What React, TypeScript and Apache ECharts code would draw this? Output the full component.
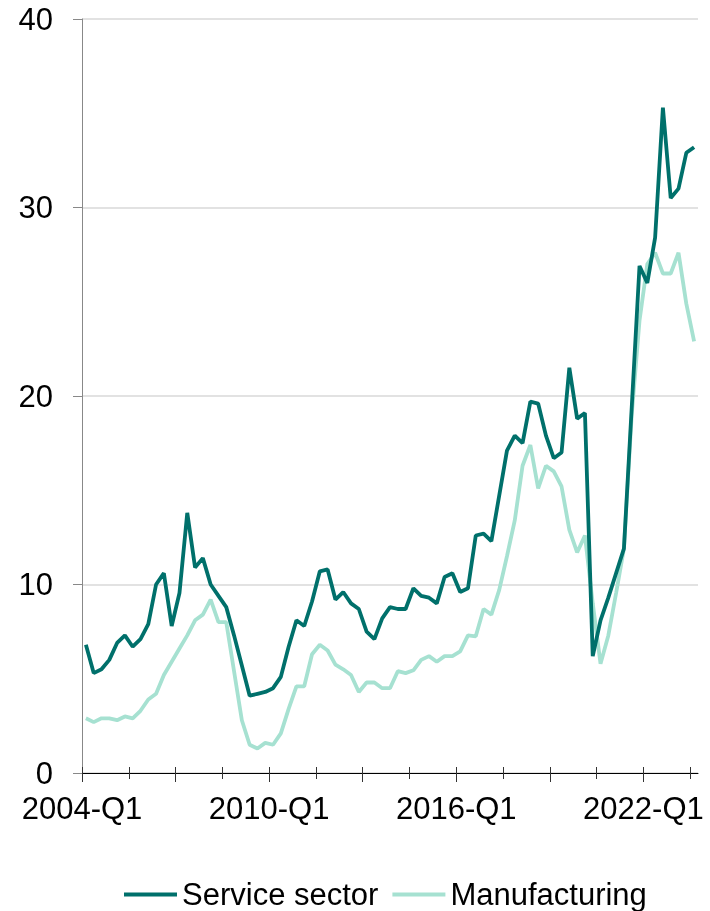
import React, { useEffect, useRef } from "react";
import * as echarts from "echarts";

const years = [2004, 2005, 2006, 2007, 2008, 2009, 2010, 2011, 2012, 2013, 2014, 2015, 2016, 2017, 2018, 2019, 2020, 2021, 2022, 2023];
const quarters = ["Q1", "Q2", "Q3", "Q4"];
const categories: string[] = [];
years.forEach((y) => quarters.forEach((q) => categories.push(`${y}-${q}`)));
categories.length = 79; // 2004-Q1 .. 2023-Q3

const serviceSector = [
  6.8, 5.3, 5.5, 6.0, 6.9, 7.3, 6.7, 7.1, 7.9, 10.0,
  10.6, 7.8, 9.55, 13.8, 10.9, 11.4, 10.0, 9.4, 8.8, 7.3,
  5.7, 4.1, 4.2, 4.3, 4.5, 5.1, 6.7, 8.1, 7.8, 9.1,
  10.7, 10.8, 9.2, 9.6, 9.0, 8.7, 7.5, 7.1, 8.2, 8.8,
  8.7, 8.7, 9.8, 9.4, 9.3, 9.0, 10.4, 10.6, 9.6, 9.8,
  12.6, 12.7, 12.3, 14.7, 17.1, 17.9, 17.5, 19.7, 19.6, 17.9,
  16.7, 17.0, 21.5, 18.8, 19.1, 6.2, 8.1, 9.3, 10.6, 11.9,
  19.4, 26.9, 26.0, 28.4, 35.3, 30.5, 31.0, 32.9, 33.2,
];

const manufacturing = [
  2.9, 2.7, 2.9, 2.9, 2.8, 3.0, 2.9, 3.3, 3.9, 4.2,
  5.2, 5.9, 6.6, 7.3, 8.1, 8.4, 9.2, 8.0, 8.0, 5.4,
  2.8, 1.5, 1.3, 1.6, 1.5, 2.1, 3.4, 4.6, 4.6, 6.3,
  6.8, 6.5, 5.75, 5.5, 5.2, 4.3, 4.8, 4.8, 4.5, 4.5,
  5.4, 5.3, 5.45, 6.0, 6.2, 5.9, 6.2, 6.2, 6.45, 7.3,
  7.25, 8.7, 8.4, 9.7, 11.5, 13.4, 16.3, 17.4, 15.1, 16.3,
  16.0, 15.2, 12.9, 11.7, 12.6, 9.0, 5.8, 7.3, 9.55, 11.9,
  19.0, 24.0, 27.0, 27.6, 26.5, 26.5, 27.6, 24.9, 22.9,
];

// x ticks every 6 quarters (band boundaries), longer every 12, labels every 24 quarters
const xTickIdx = [0, 6, 12, 18, 24, 30, 36, 42, 48, 54, 60, 66, 72, 78];
const xMajorTickIdx = [0, 12, 24, 36, 48, 60, 72];
const xLabelIdx = [0, 24, 48, 72];
const yTicks = { min: 0, max: 40, interval: 10 };

const FONT = "'Liberation Sans', Arial, Helvetica, sans-serif";
const DARK = "#00706B";
const LIGHT = "#A6E1D1";
const FS = 31;

export default function App() {
  const ref = useRef<HTMLDivElement>(null);

  useEffect(() => {
    if (!ref.current) return;
    const chart = echarts.init(ref.current, undefined, { renderer: "svg" });
    const n = categories.length;
    const toPts = (arr: number[]) => arr.map((v, i) => [i + 0.5, v]);
    const tickAxis = (inside: boolean, values: number[], length: number) => ({
      type: "value",
      min: 0,
      max: n,
      position: "bottom",
      axisLine: { show: false, onZero: false },
      axisTick: { show: true, inside, customValues: values, length, lineStyle: { color: "#333" } },
      axisLabel: { show: false },
      splitLine: { show: false },
    });
    chart.setOption({
      animation: false,
      textStyle: { fontFamily: FONT },
      grid: { left: 82, right: 12, top: 19, bottom: 138, containLabel: false },
      xAxis: [
        {
          type: "value",
          min: 0,
          max: n,
          axisLine: { show: true, onZero: false, lineStyle: { color: "#000", width: 1 } },
          axisTick: { show: true, customValues: xMajorTickIdx, length: 9, lineStyle: { color: "#333" } },
          axisLabel: {
            customValues: xLabelIdx,
            formatter: (v: number) => categories[Math.round(v)] ?? "",
            fontSize: FS,
            color: "#000",
            margin: 20,
            fontFamily: FONT,
          },
          splitLine: { show: false },
        },
        tickAxis(true, xTickIdx, 6),
        tickAxis(false, xTickIdx, 6),
      ],
      yAxis: {
        type: "value",
        min: yTicks.min,
        max: yTicks.max,
        interval: yTicks.interval,
        axisLine: { show: true, lineStyle: { color: "#888", width: 1 } },
        axisTick: { show: true, length: 9, lineStyle: { color: "#888" } },
        axisLabel: { fontSize: FS, color: "#000", margin: 29, fontFamily: FONT },
        splitLine: { show: true, lineStyle: { color: "#D9D9D9", width: 1.5 } },
      },
      legend: {
        left: 119,
        top: 874,
        icon: "rect",
        itemWidth: 53,
        itemHeight: 4,
        itemGap: 14,
        textStyle: { fontSize: FS, color: "#000", fontFamily: FONT },
        data: ["Service sector", "Manufacturing"],
      },
      series: [
        {
          name: "Service sector",
          type: "line",
          data: toPts(serviceSector),
          xAxisIndex: 0,
          symbol: "none",
          lineStyle: { width: 3.8, color: DARK },
          itemStyle: { color: DARK },
          z: 3,
        },
        {
          name: "Manufacturing",
          type: "line",
          data: toPts(manufacturing),
          xAxisIndex: 0,
          symbol: "none",
          lineStyle: { width: 3.8, color: LIGHT },
          itemStyle: { color: LIGHT },
          z: 2,
        },
      ],
    });
    return () => chart.dispose();
  }, []);

  return (
    <div
      ref={ref}
      style={{ position: "fixed", left: 0, top: 0, width: 710, height: 911 }}
    />
  );
}
